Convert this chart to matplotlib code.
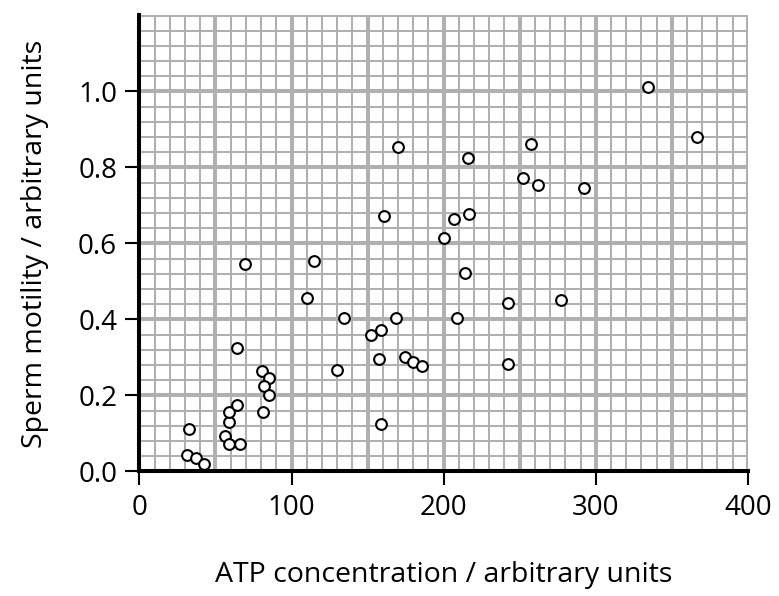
import matplotlib.pyplot as plt
import numpy as np

# ATP concentration vs sperm motility
atp = [31, 37.5, 42.5, 32.5, 56.5, 59, 66, 59, 59, 64,
       64, 80.5, 85.5, 82, 85.5, 81, 69.5, 110, 114.5, 134.5,
       130, 152, 159, 157.5, 159, 169, 174.5, 180, 186, 161,
       170, 200.5, 206.5, 217, 216, 214, 208.5, 242, 242, 252.5,
       257.5, 262, 277, 292, 334.5, 366.5]
motility = [0.043, 0.036, 0.020, 0.112, 0.094, 0.073, 0.073, 0.129, 0.156, 0.175,
            0.325, 0.264, 0.246, 0.225, 0.202, 0.156, 0.547, 0.457, 0.555, 0.403,
            0.266, 0.358, 0.371, 0.295, 0.124, 0.403, 0.301, 0.289, 0.277, 0.673,
            0.855, 0.614, 0.665, 0.677, 0.825, 0.523, 0.403, 0.283, 0.444, 0.773,
            0.862, 0.755, 0.452, 0.746, 1.011, 0.880]

x_ticks = [0, 100, 200, 300, 400]
y_ticks = [0.0, 0.2, 0.4, 0.6, 0.8, 1.0]

plt.rcParams['font.family'] = ['Open Sans', 'DejaVu Sans']

fig = plt.figure(figsize=(7.79, 5.96), dpi=100)
ax = fig.add_axes([0.179, 0.209, 0.781, 0.765])

grey = '#b0b0b0'
# papier millimétré : fines lignes tous les 10 / 0.04, épaisses tous les 50 / 0.2
for xv in np.arange(0, 401, 10):
    lw = 2.9 if xv % 50 == 0 else 1.45
    ax.axvline(xv, color=grey, lw=lw, zorder=0)
for i, yv in enumerate(np.linspace(0, 1.2, 31)):
    lw = 2.9 if i % 5 == 0 else 1.45
    ax.axhline(yv, color=grey, lw=lw, zorder=0)

ax.scatter(atp, motility, s=60, facecolor='white', edgecolor='black',
           linewidth=1.5, zorder=3, clip_on=False)

ax.set_xlim(0, 400)
ax.set_ylim(0, 1.2)
ax.set_xticks(x_ticks)
ax.set_yticks(y_ticks)
ax.set_yticklabels([f'{v:.1f}' for v in y_ticks])

for side in ['top', 'right']:
    ax.spines[side].set_visible(False)
for side in ['left', 'bottom']:
    ax.spines[side].set_linewidth(2.9)
    ax.spines[side].set_zorder(4)

ax.tick_params(direction='out', length=10, width=1.5, labelsize=20, pad=6)
ax.set_xlabel('ATP concentration / arbitrary units', fontsize=20.5, labelpad=28)
ax.set_ylabel('Sperm motility / arbitrary units', fontsize=20.5, labelpad=21)

plt.savefig('out.png')
